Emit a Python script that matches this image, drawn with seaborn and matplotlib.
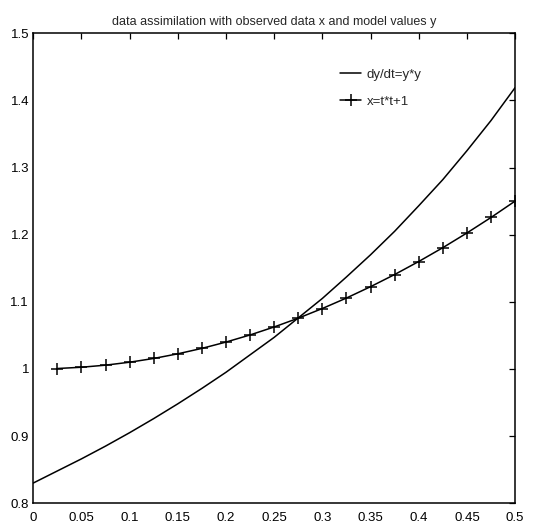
import matplotlib
matplotlib.use("Agg")
import matplotlib.pyplot as plt
import seaborn as sns
import pandas as pd
from matplotlib.ticker import FuncFormatter

# model trajectory y(t) of dy/dt = y*y
t_model = [0.0, 0.025, 0.05, 0.075, 0.1, 0.125, 0.15, 0.175, 0.2, 0.225, 0.25,
           0.275, 0.3, 0.325, 0.35, 0.375, 0.4, 0.425, 0.45, 0.475, 0.5]
y_model = [0.830, 0.848, 0.866, 0.885, 0.905, 0.926, 0.948, 0.971, 0.995, 1.021, 1.047,
           1.076, 1.105, 1.137, 1.170, 1.205, 1.243, 1.282, 1.325, 1.370, 1.419]

# observed data x = t*t + 1
t_obs = [0.025, 0.05, 0.075, 0.1, 0.125, 0.15, 0.175, 0.2, 0.225, 0.25,
         0.275, 0.3, 0.325, 0.35, 0.375, 0.4, 0.425, 0.45, 0.475, 0.5]
x_obs = [1.0006, 1.0025, 1.0056, 1.0100, 1.0156, 1.0225, 1.0306, 1.0400, 1.0506, 1.0625,
         1.0756, 1.0900, 1.1056, 1.1225, 1.1406, 1.1600, 1.1806, 1.2025, 1.2256, 1.2500]

x_ticks = [0, 0.05, 0.1, 0.15, 0.2, 0.25, 0.3, 0.35, 0.4, 0.45, 0.5]
y_ticks = [0.8, 0.9, 1.0, 1.1, 1.2, 1.3, 1.4, 1.5]

sns.set_theme(style="white")
plt.rcParams["font.family"] = ["Liberation Sans Narrow", "Liberation Sans", "DejaVu Sans"]

fig = plt.figure(figsize=(5.36, 5.28), dpi=100)
ax = fig.add_axes([0.062, 0.047, 0.899, 0.890])

model_df = pd.DataFrame({"t": t_model, "y": y_model})
obs_df = pd.DataFrame({"t": t_obs, "x": x_obs})

sns.lineplot(data=model_df, x="t", y="y", ax=ax, color="black", linewidth=1.1,
             label="dy/dt=y*y")
sns.lineplot(data=obs_df, x="t", y="x", ax=ax, color="black", linewidth=1.1,
             marker="+", markersize=8, markeredgewidth=1.1,
             markeredgecolor="black", markerfacecolor="black", label="x=t*t+1")

ax.set_xlim(0, 0.5)
ax.set_ylim(0.8, 1.5)
ax.set_xticks(x_ticks)
ax.set_yticks(y_ticks)
ax.xaxis.set_major_formatter(FuncFormatter(lambda v, p: f"{v:g}"))
ax.yaxis.set_major_formatter(FuncFormatter(lambda v, p: f"{v:g}"))
ax.tick_params(direction="in", length=4, width=0.9, top=True, right=True,
               labelsize=9.5, colors="black")
ax.tick_params(axis="x", pad=6)
ax.tick_params(axis="y", pad=3)
ax.set_xlabel("")
ax.set_ylabel("")
for s in ax.spines.values():
    s.set_color("black")
    s.set_linewidth(1.1)

ax.set_title("data assimilation with observed data x and model values y",
             fontsize=9, pad=6)

leg = ax.legend(loc="upper right", bbox_to_anchor=(0.83, 0.95), frameon=False,
                fontsize=9.5, handlelength=1.6, handletextpad=0.4, labelspacing=1.1)

fig.savefig("out.png", dpi=100, facecolor="white")
